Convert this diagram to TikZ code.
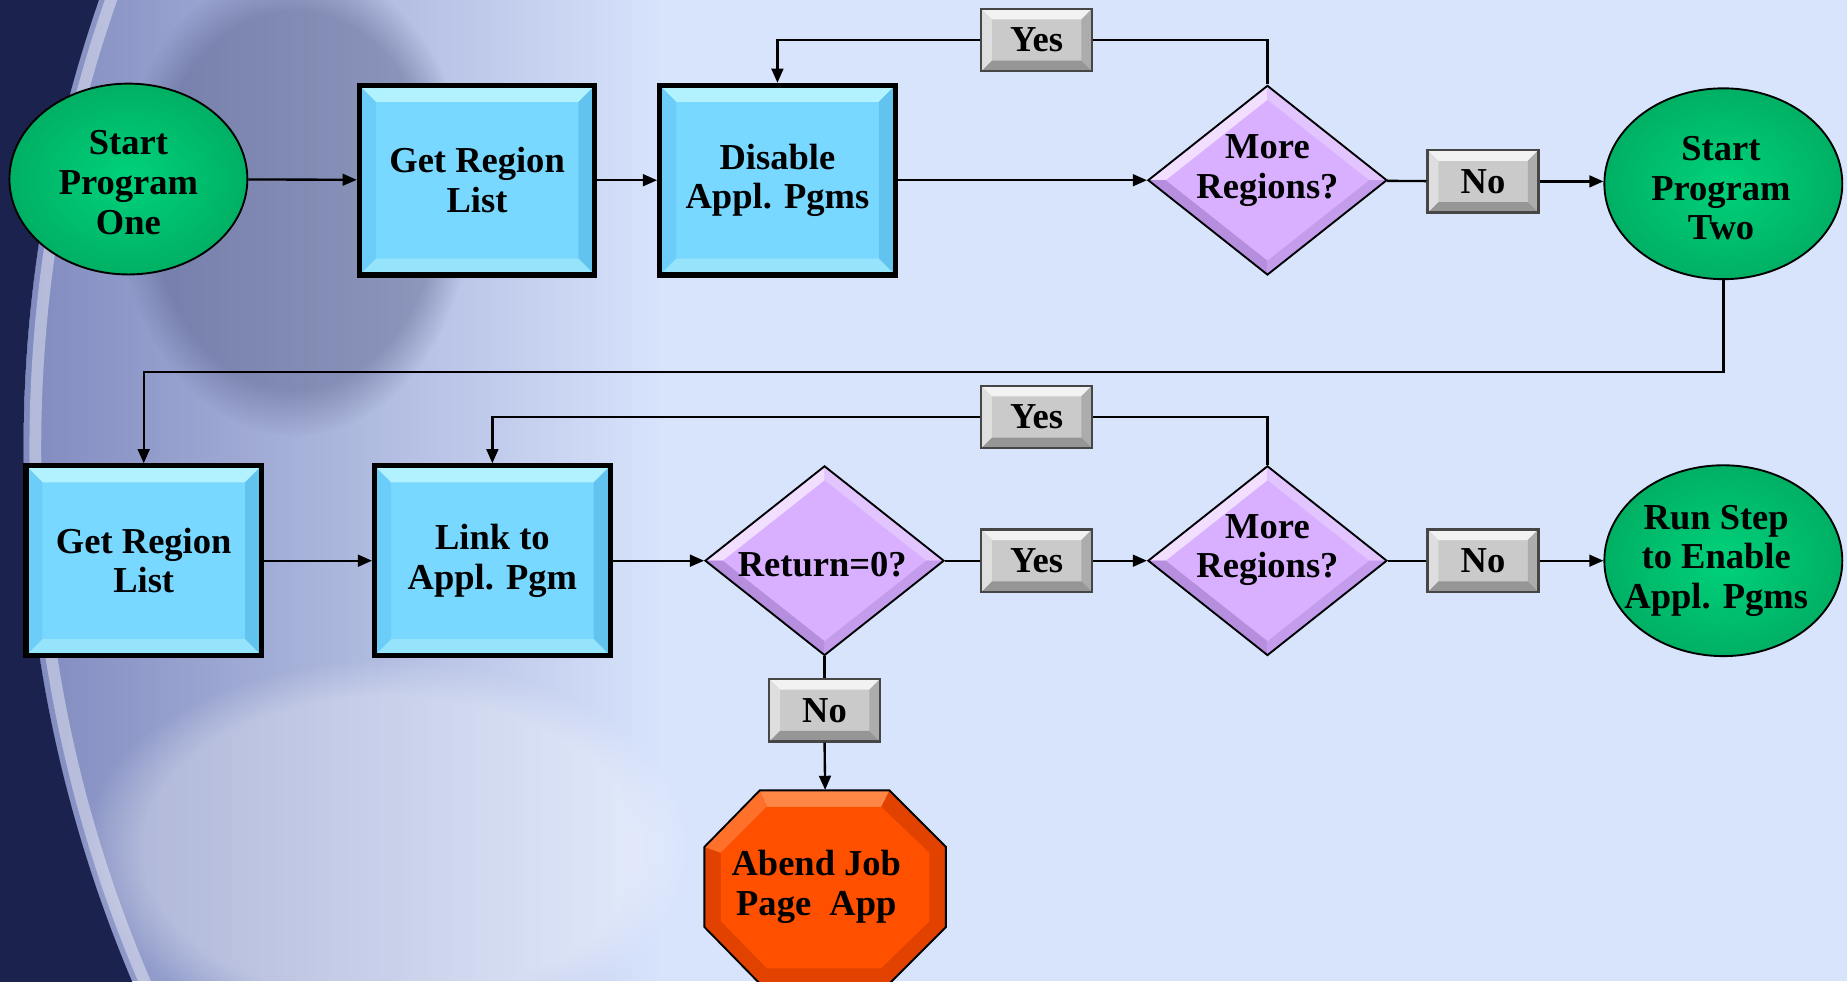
\documentclass[tikz,border=0pt]{standalone}
\usepackage{fontspec}
\setmainfont{Liberation Serif}
\usetikzlibrary{shapes.geometric,arrows.meta,fadings}
\definecolor{bg}{RGB}{216,227,252}
\definecolor{navy}{RGB}{28,34,78}
\definecolor{reel}{RGB}{110,120,178}
\definecolor{bmain}{RGB}{120,216,255}
\definecolor{btop}{RGB}{178,242,255}
\definecolor{bright}{RGB}{98,196,238}
\definecolor{bbot}{RGB}{150,228,252}
\definecolor{bleft}{RGB}{108,206,248}
\definecolor{gmid}{RGB}{0,210,124}
\definecolor{gdark}{RGB}{0,176,100}
\definecolor{pmain}{RGB}{216,176,255}
\definecolor{plight}{RGB}{242,222,255}
\definecolor{plight2}{RGB}{226,196,255}
\definecolor{pdark}{RGB}{182,142,222}
\definecolor{pdark2}{RGB}{196,156,236}
\definecolor{lmain}{RGB}{202,202,202}
\definecolor{ltop}{RGB}{242,242,242}
\definecolor{lright}{RGB}{172,172,172}
\definecolor{lbot}{RGB}{150,150,150}
\definecolor{lleft}{RGB}{222,222,222}
\definecolor{omain}{RGB}{255,80,0}
\definecolor{olight}{RGB}{255,135,70}
\definecolor{odark}{RGB}{225,66,0}
\newcommand\flowfont{\bfseries\fontsize{15.5}{16.8}\selectfont}
\tikzfading[name=fadeR, left color=transparent!0, right color=transparent!100]
\tikzset{
  arr/.style={line width=1pt,-{Triangle[length=6pt,width=5pt]}},
  ln/.style={line width=1pt},
  txt/.style={font=\flowfont,align=center,inner sep=0pt},
  bevel/.style n args={5}{path picture={
    \fill[#2] (path picture bounding box.north west) -- (path picture bounding box.north east)
       -- ([xshift=-#1,yshift=-#1]path picture bounding box.north east)
       -- ([xshift=#1,yshift=-#1]path picture bounding box.north west) -- cycle;
    \fill[#3] (path picture bounding box.north east) -- (path picture bounding box.south east)
       -- ([xshift=-#1,yshift=#1]path picture bounding box.south east)
       -- ([xshift=-#1,yshift=-#1]path picture bounding box.north east) -- cycle;
    \fill[#4] (path picture bounding box.south east) -- (path picture bounding box.south west)
       -- ([xshift=#1,yshift=#1]path picture bounding box.south west)
       -- ([xshift=-#1,yshift=#1]path picture bounding box.south east) -- cycle;
    \fill[#5] (path picture bounding box.south west) -- (path picture bounding box.north west)
       -- ([xshift=#1,yshift=-#1]path picture bounding box.north west)
       -- ([xshift=#1,yshift=#1]path picture bounding box.south west) -- cycle;
  }},
  box/.style={rectangle,draw=black,line width=2.2pt,fill=bmain,minimum width=100pt,
    minimum height=80.5pt,inner sep=0pt,align=center,font=\flowfont,
    bevel={7pt}{btop}{bright}{bbot}{bleft}},
  lab/.style={rectangle,draw={rgb,255:red,70;green,70;blue,70},line width=1pt,fill=lmain,
    minimum width=47pt,minimum height=26.5pt,inner sep=0pt,font=\flowfont,
    bevel={4.5pt}{ltop}{lright}{lbot}{lleft}},
  oval/.style={ellipse,draw=black,line width=0.8pt,minimum width=101pt,minimum height=81pt,
    inner sep=0pt,inner color=gmid,outer color=gdark},
  dia/.style={diamond,draw=black,line width=0.8pt,fill=pmain,minimum width=101.5pt,
    minimum height=80.5pt,inner sep=0pt,path picture={
    \fill[plight] (path picture bounding box.center) -- (path picture bounding box.north) -- (path picture bounding box.west) -- cycle;
    \fill[plight2] (path picture bounding box.center) -- (path picture bounding box.north) -- (path picture bounding box.east) -- cycle;
    \fill[pdark] (path picture bounding box.center) -- (path picture bounding box.south) -- (path picture bounding box.west) -- cycle;
    \fill[pdark2] (path picture bounding box.center) -- (path picture bounding box.south) -- (path picture bounding box.east) -- cycle;
    \fill[pmain] ([yshift=-6pt]path picture bounding box.north) -- ([xshift=-7.5pt]path picture bounding box.east)
       -- ([yshift=6pt]path picture bounding box.south) -- ([xshift=7.5pt]path picture bounding box.west) -- cycle;
  }},
}
\begin{document}
\begin{tikzpicture}[x=0.5pt,y=-0.5pt]
\useasboundingbox (0,0) rectangle (1568,833);
% background
\fill[bg] (0,0) rectangle (1568,833);
\begin{scope}
  \clip (1180,380) circle (1160);
  \fill[reel, path fading=fadeR, opacity=0.85] (0,0) rectangle (560,833);
  \fill[reel!70!black, path fading=circle with fuzzy edge 20 percent, opacity=0.4] (250,170) ellipse (150 and 200);
  \fill[white, path fading=circle with fuzzy edge 20 percent, opacity=0.3] (330,720) ellipse (260 and 160);
\end{scope}
\draw[white, opacity=0.4, line width=5pt] (1180,380) circle (1150);
\fill[navy] (-10,-10) -- (87.5,-10) arc[start angle=199.65, end angle=156.1, radius=1160] -- (-10,850) -- cycle;

% row 1
\node[oval] (s1) at (109,152) {};
\node[txt] (s1t) at (109,155) {Start\\Program\\One};
\node[box] (g1) at (405,153) {Get Region\\List};
\node[box] (d1) at (660,153) {Disable\\Appl. Pgms};
\node[dia] (m1) at (1076,153) {};
\node[txt] (m1t) at (1076,145) {More\\Regions?};
\node[lab] (n1) at (1259,154) {No};
\node[oval] (s2) at (1463,156) {};
\node[txt] (s2t) at (1461,160) {Start\\Program\\Two};
\node[lab] (y1) at (880,34) {Yes};

% row 2
\node[box] (g2) at (122,476) {Get Region\\List};
\node[box] (l2) at (418,476) {Link to\\Appl. Pgm};
\node[dia] (r2) at (700,476) {};
\node[txt] (r2t) at (698,479) {Return=0?};
\node[lab] (y2) at (880,476) {Yes};
\node[dia] (m2) at (1076,476) {};
\node[txt] (m2t) at (1076,467) {More\\Regions?};
\node[lab] (n2) at (1259,476) {No};
\node[oval] (e2) at (1463,476) {};
\node[txt] (e2t) at (1457,476) {Run Step\\to Enable\\Appl. Pgms};
\node[lab] (y3) at (880,354) {Yes};
\node[lab] (n3) at (700,603) {No};

% abend octagon
\fill[odark] (645,671) -- (755,671) -- (803,719) -- (803,787) -- (755,835) -- (645,835) -- (598,787) -- (598,719) -- cycle;
\fill[olight] (645,671) -- (755,671) -- (748,685) -- (651,685) -- cycle;
\fill[olight!60!omain] (645,671) -- (651,685) -- (612,724) -- (598,719) -- cycle;
\fill[omain] (651,685) -- (748,685) -- (789,724) -- (789,782) -- (748,822) -- (651,822) -- (612,782) -- (612,724) -- cycle;
\draw[line width=0.8pt] (645,671) -- (755,671) -- (803,719) -- (803,787) -- (755,835) -- (645,835) -- (598,787) -- (598,719) -- cycle;
\node[rectangle, minimum width=102.5pt, minimum height=82pt, inner sep=0pt] (ab) at (700.5,753) {};
\node[txt] (abt) at (693,753) {Abend Job\\Page~~App};

% connectors row 1
\draw[arr] (s1) -- (g1);
\draw[arr] (g1) -- (d1);
\draw[arr] (d1) -- (m1);
\draw[ln] (m1) -- (n1);
\draw[arr] (n1.east) -- (n1.east -| s2.west);
\draw[ln] (m1.north) |- (y1.east);
\draw[arr] (y1.west) -| (d1.north);
\coordinate (k) at (122,316);
\draw[arr] (s2.south) |- (k) -- (g2.north);

% connectors row 2
\draw[arr] (g2) -- (l2);
\draw[arr] (l2) -- (r2);
\draw[ln] (r2) -- (y2);
\draw[arr] (y2) -- (m2);
\draw[ln] (m2) -- (n2);
\draw[arr] (n2) -- (e2);
\draw[ln] (m2.north) |- (y3.east);
\draw[arr] (y3.west) -| (l2.north);
\draw[ln] (r2.south) -- (n3.north);
\draw[arr] (n3.south) -- (ab.north);
\end{tikzpicture}
\end{document}
